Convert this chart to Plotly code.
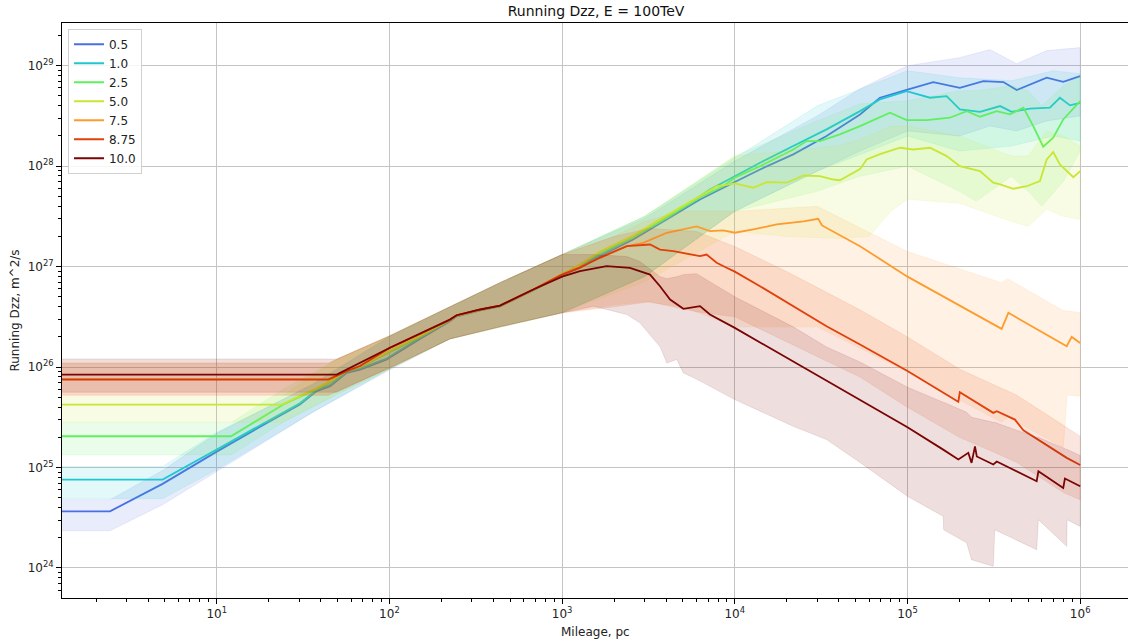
import plotly.graph_objects as go
import numpy as np

# ---------------- data ----------------
# y values are given as log10(Dzz [m^2/s]); x values in pc
series_names = ["0.5", "1.0", "2.5", "5.0", "7.5", "8.75", "10.0"]
series_colors = [(74, 111, 227), (31, 200, 209), (95, 240, 95), (200, 230, 50),
                 (254, 155, 45), (224, 64, 10), (122, 4, 3)]

x_05 = [1, 2.41, 4.86, 10, 19.5, 30.3, 37.9, 45.3, 56.6, 67.6, 96.4, 150, 224, 245, 335, 437, 681,
        1000, 1270, 1660, 2580, 4040, 6290, 9800, 14000, 21800, 34000, 53100, 69300, 98900, 141000,
        201000, 275000, 359000, 429000, 640000, 798000, 1000000]
lg_05 = [24.564, 24.564, 24.837, 25.158, 25.444, 25.627, 25.76, 25.81, 25.942, 25.975, 26.075, 26.28,
         26.456, 26.505, 26.565, 26.605, 26.765, 26.915, 26.99, 27.104, 27.27, 27.469, 27.668, 27.835,
         27.967, 28.117, 28.30, 28.515, 28.681, 28.76, 28.837, 28.78, 28.847, 28.837, 28.757, 28.88,
         28.84, 28.896]
bx_05 = [1, 2.41, 4.86, 10, 36, 100, 224, 437, 1000, 3000, 10000, 30000, 53100, 100000, 200000, 300000,
         429000, 640000, 1000000]
blo_05 = [24.37, 24.37, 24.63, 24.96, 25.55, 25.97, 26.28, 26.40, 26.54, 26.9, 27.55, 27.95, 28.15, 28.35,
          28.3, 28.4, 28.35, 28.45, 28.5]
bhi_05 = [24.68, 24.68, 24.97, 25.34, 25.83, 26.30, 26.60, 26.84, 27.12, 27.48, 28.05, 28.5, 28.77, 29.0,
          29.08, 29.16, 29.02, 29.15, 29.18]

x_10 = [1, 4.86, 10, 19.5, 30.3, 37.9, 45.3, 56.6, 67.6, 96.4, 150, 224, 245, 335, 437, 681, 1000, 1270,
        1660, 2580, 4220, 7180, 10000, 14000, 21800, 34000, 53100, 69300, 98900, 135000, 168600, 201000,
        263000, 344000, 401000, 512000, 668000, 763000, 873000, 1000000]
lg_10 = [24.879, 24.879, 25.18, 25.46, 25.64, 25.77, 25.82, 25.95, 25.985, 26.085, 26.29, 26.46, 26.508,
         26.567, 26.607, 26.767, 26.918, 27.01, 27.12, 27.29, 27.502, 27.768, 27.90, 28.034, 28.2, 28.366,
         28.548, 28.664, 28.747, 28.681, 28.697, 28.565, 28.54, 28.598, 28.54, 28.572, 28.582, 28.681,
         28.605, 28.631]
bx_10 = [1, 4.86, 10, 36, 100, 224, 437, 1000, 3000, 10000, 30000, 100000, 200000, 400000, 700000, 1000000]
blo_10 = [24.69, 24.69, 24.98, 25.55, 25.98, 26.28, 26.40, 26.54, 26.9, 27.55, 27.95, 28.3, 28.15, 28.2,
          28.3, 28.25]
bhi_10 = [25.01, 25.01, 25.35, 25.83, 26.31, 26.60, 26.84, 27.12, 27.5, 28.08, 28.6, 28.95, 28.88, 28.85,
          28.95, 28.92]

x_25 = [1, 12.1, 24.3, 37.9, 45.3, 56.6, 67.6, 100, 150, 224, 245, 335, 437, 681, 1000, 1270, 1660, 2580,
        4040, 6290, 8570, 10000, 14000, 21800, 26100, 31100, 40600, 53100, 79200, 98900, 129000, 176000,
        220000, 263000, 329000, 392000, 469000, 535000, 611000, 698000, 798000, 1000000]
lg_25 = [25.311, 25.311, 25.627, 25.78, 25.85, 25.96, 26.0, 26.15, 26.30, 26.465, 26.51, 26.57, 26.61,
         26.77, 26.92, 27.02, 27.14, 27.29, 27.49, 27.69, 27.80, 27.885, 28.0, 28.166, 28.25, 28.25, 28.316,
         28.398, 28.532, 28.458, 28.458, 28.482, 28.548, 28.492, 28.548, 28.515, 28.582, 28.398, 28.193,
         28.283, 28.465, 28.647]
bx_25 = [1, 12.1, 24.3, 50, 100, 224, 437, 1000, 3000, 10000, 30000, 53100, 100000, 200000, 250000,
         400000, 500000, 600000, 800000, 1000000]
blo_25 = [25.125, 25.125, 25.45, 25.73, 25.98, 26.28, 26.40, 26.54, 26.9, 27.55, 27.75, 27.9, 28.0, 27.75,
          27.65, 27.9, 27.75, 27.6, 27.85, 28.15]
bhi_25 = [25.445, 25.445, 25.78, 26.08, 26.31, 26.60, 26.84, 27.12, 27.5, 28.1, 28.45, 28.62, 28.65,
          28.75, 28.75, 28.8, 28.75, 28.6, 28.8, 28.9]

x_50 = [1, 23.8, 37.9, 45.3, 56.6, 67.6, 100, 150, 224, 245, 335, 437, 681, 1000, 1270, 1660, 2580, 4040,
        6290, 7880, 8570, 10000, 12800, 15300, 20000, 25000, 31100, 37200, 40600, 53100, 58000, 69300,
        90600, 108000, 135000, 168600, 201000, 263000, 314000, 344000, 410000, 490000, 585000, 640000,
        698000, 763000, 913000, 1000000]
lg_50 = [25.627, 25.627, 25.79, 25.86, 25.965, 26.005, 26.16, 26.31, 26.47, 26.515, 26.572, 26.612,
         26.772, 26.922, 27.02, 27.15, 27.31, 27.51, 27.70, 27.80, 27.808, 27.828, 27.785, 27.84, 27.835,
         27.907, 27.90, 27.867, 27.86, 27.97, 28.067, 28.12, 28.183, 28.166, 28.183, 28.10, 28.0, 27.95,
         27.835, 27.818, 27.775, 27.80, 27.851, 28.067, 28.14, 28.017, 27.89, 27.95]
bx_50 = [1, 23.8, 50, 100, 224, 437, 1000, 3000, 10000, 20000, 40000, 60000, 80000, 100000, 200000,
         400000, 500000, 640000, 800000, 1000000]
blo_50 = [25.45, 25.45, 25.73, 25.98, 26.28, 26.40, 26.54, 26.85, 27.35, 27.3, 27.28, 27.3, 27.55, 27.67,
          27.63, 27.45, 27.40, 27.57, 27.5, 27.47]
bhi_50 = [25.71, 25.71, 26.08, 26.31, 26.60, 26.84, 27.12, 27.5, 28.1, 28.15, 28.2, 28.3, 28.4, 28.4,
          28.3, 28.1, 28.1, 28.35, 28.3, 28.2]

x_75 = [1, 44.3, 56.6, 67.6, 100, 150, 224, 245, 335, 437, 681, 1000, 1270, 1660, 2370, 2950, 4040, 6010,
        7180, 8570, 10000, 12800, 17500, 25000, 30400, 32000, 53100, 100000, 220000, 351000, 384000,
        836000, 893000, 1000000]
lg_75 = [25.88, 25.88, 25.96, 26.01, 26.19, 26.33, 26.47, 26.515, 26.572, 26.612, 26.772, 26.921, 27.0,
         27.09, 27.203, 27.237, 27.337, 27.40, 27.353, 27.36, 27.337, 27.37, 27.42, 27.45, 27.476, 27.41,
         27.203, 26.90, 26.573, 26.38, 26.54, 26.207, 26.30, 26.24]
bx_75 = [1, 44.3, 100, 224, 437, 1000, 2000, 3000, 5000, 10000, 30000, 100000, 350000, 380000, 800000,
         840000, 1000000]
blo_75 = [25.72, 25.72, 25.99, 26.28, 26.40, 26.54, 26.62, 26.65, 26.6, 26.4, 26.4, 25.95, 25.45, 25.5,
          25.2, 25.72, 25.71]
bhi_75 = [26.04, 26.04, 26.31, 26.60, 26.84, 27.12, 27.3, 27.45, 27.55, 27.55, 27.6, 27.15, 26.84, 26.88,
          26.56, 26.56, 26.54]

x_875 = [1, 44.3, 56.6, 67.6, 100, 150, 224, 245, 335, 437, 681, 1000, 1270, 1660, 2370, 3230, 3690,
         4410, 5750, 6290, 6870, 7850, 8970, 10000, 14000, 21800, 34000, 53100, 100000, 197000, 201000,
         314000, 329000, 419000, 469000, 836000, 1000000]
lg_875 = [25.875, 25.875, 25.96, 26.01, 26.19, 26.33, 26.47, 26.515, 26.572, 26.612, 26.772, 26.921,
          26.99, 27.09, 27.203, 27.22, 27.17, 27.153, 27.12, 27.104, 27.12, 27.038, 26.988, 26.95, 26.805,
          26.606, 26.406, 26.224, 25.96, 25.655, 25.749, 25.544, 25.56, 25.477, 25.37, 25.096, 25.025]
bx_875 = [1, 44.3, 100, 224, 437, 1000, 2000, 3200, 6000, 10000, 20000, 53100, 100000, 200000, 320000,
          430000, 800000, 1000000]
blo_875 = [25.72, 25.72, 25.99, 26.28, 26.40, 26.54, 26.6, 26.65, 26.55, 26.5, 26.25, 25.9, 25.6, 25.3,
           25.15, 25.05, 24.75, 24.68]
bhi_875 = [26.04, 26.04, 26.31, 26.60, 26.84, 27.12, 27.3, 27.38, 27.35, 27.2, 26.95, 26.57, 26.3, 25.98,
           25.82, 25.72, 25.42, 25.31]

x_100 = [1, 49.5, 100, 150, 224, 245, 335, 437, 681, 1000, 1270, 1810, 2470, 3230, 3690, 4220, 5040, 6290,
         7180, 10000, 53100, 100000, 161000, 197000, 225000, 235000, 246000, 252000, 314000, 329000,
         560000, 573000, 798000, 816000, 1000000]
lg_100 = [25.925, 25.925, 26.19, 26.33, 26.473, 26.516, 26.573, 26.612, 26.772, 26.90, 26.954, 27.004,
          26.988, 26.921, 26.805, 26.672, 26.58, 26.606, 26.523, 26.39, 25.676, 25.40, 25.178, 25.08,
          25.146, 25.046, 25.21, 25.11, 25.03, 25.06, 24.863, 24.962, 24.797, 24.89, 24.813]
bx_100 = [1, 49.5, 100, 224, 437, 1000, 1520, 2370, 2820, 3700, 4040, 4610, 5040, 6000, 7180, 10000,
          21800, 34000, 53100, 100000, 161000, 162000, 220000, 235000, 314000, 320000, 560000, 573000,
          836000, 840000, 1000000]
blo_100 = [25.75, 25.75, 25.99, 26.28, 26.40, 26.54, 26.606, 26.523, 26.44, 26.2, 26.04, 26.075, 25.942,
           25.88, 25.81, 25.676, 25.41, 25.278, 25.05, 24.713, 24.514, 24.38, 24.25, 24.083, 24.016,
           24.38, 24.182, 24.48, 24.215, 24.48, 24.414]
bhi_100 = [26.08, 26.08, 26.31, 26.60, 26.84, 27.12, 27.12, 27.1, 27.05, 26.9, 26.88, 26.9, 26.92, 26.93,
           26.85, 26.7, 26.4, 26.2, 26.05, 25.8, 25.65, 25.65, 25.55, 25.5, 25.45, 25.45, 25.3, 25.3,
           25.18, 25.18, 25.12]

x_tick_vals = [10, 100, 1000, 10000, 100000, 1000000]
x_tick_text = ["10<sup>1</sup>", "10<sup>2</sup>", "10<sup>3</sup>", "10<sup>4</sup>",
               "10<sup>5</sup>", "10<sup>6</sup>"]
y_tick_vals = [1e24, 1e25, 1e26, 1e27, 1e28, 1e29]
y_tick_text = ["10<sup>24</sup>", "10<sup>25</sup>", "10<sup>26</sup>", "10<sup>27</sup>",
               "10<sup>28</sup>", "10<sup>29</sup>"]

lines = [(x_05, lg_05), (x_10, lg_10), (x_25, lg_25), (x_50, lg_50),
         (x_75, lg_75), (x_875, lg_875), (x_100, lg_100)]
bands = [(bx_05, blo_05, bhi_05), (bx_10, blo_10, bhi_10), (bx_25, blo_25, bhi_25),
         (bx_50, blo_50, bhi_50), (bx_75, blo_75, bhi_75), (bx_875, blo_875, bhi_875),
         (bx_100, blo_100, bhi_100)]

# ---------------- figure ----------------
fig = go.Figure()
FONT = "DejaVu Sans"

for name, col, (lx, ly), (bx, blo, bhi) in zip(series_names, series_colors, lines, bands):
    r, g, b = col
    bxs = list(bx) + list(bx)[::-1]
    bys = list(np.power(10.0, bhi)) + list(np.power(10.0, blo))[::-1]
    fig.add_trace(go.Scatter(
        x=bxs, y=bys, mode="lines", fill="toself",
        fillcolor=f"rgba({r},{g},{b},0.13)",
        line=dict(color=f"rgba({r},{g},{b},0.10)", width=1),
        hoverinfo="skip", showlegend=False))
    fig.add_trace(go.Scatter(
        x=lx, y=np.power(10.0, ly), mode="lines", name=name,
        line=dict(color=f"rgb({r},{g},{b})", width=1.8)))

minor_x = [m * 10 ** e for e in range(0, 7) for m in range(2, 10)]
minor_y = [m * 10.0 ** e for e in range(23, 30) for m in range(2, 10)]

axis_common = dict(
    type="log", showline=True, linecolor="black", linewidth=1, mirror=True,
    ticks="outside", ticklen=5, tickwidth=1, tickcolor="black",
    showgrid=True, gridcolor="#c4c4c4", gridwidth=1, zeroline=False,
    tickfont=dict(family=FONT, size=12, color="#222"), tickmode="array",
)

fig.update_layout(
    width=1128, height=643,
    margin=dict(l=62, r=0, t=23, b=45),
    plot_bgcolor="white", paper_bgcolor="white",
    font=dict(family=FONT, size=12, color="#222"),
    xaxis=dict(**axis_common, range=[0.104, 6.277], tickvals=x_tick_vals, ticktext=x_tick_text,
               minor=dict(tickmode="array", tickvals=minor_x, ticks="outside", ticklen=3,
                          tickcolor="black", showgrid=False)),
    yaxis=dict(**axis_common, range=[23.701, 29.425], tickvals=y_tick_vals, ticktext=y_tick_text,
               minor=dict(tickmode="array", tickvals=minor_y, ticks="outside", ticklen=3,
                          tickcolor="black", showgrid=False)),
    title=dict(text="Running Dzz, E = 100TeV", x=0.501, xref="paper", xanchor="center",
               y=1 - 11.5 / 643, yref="container", yanchor="middle",
               font=dict(family=FONT, size=14, color="#111")),
    legend=dict(x=0.0056, y=0.99, xanchor="left", yanchor="top",
                bgcolor="rgba(255,255,255,0.85)", bordercolor="#d0d0d0", borderwidth=1,
                font=dict(family=FONT, size=12, color="#222"), tracegroupgap=0),
    annotations=[
        dict(text="Mileage, pc", xref="paper", yref="paper", x=0.5, y=-0.059,
             xanchor="center", yanchor="middle", showarrow=False,
             font=dict(family=FONT, size=12, color="#222")),
        dict(text="Running Dzz, m^2/s", xref="paper", yref="paper", x=-0.045, y=0.5,
             xanchor="center", yanchor="middle", showarrow=False, textangle=-90,
             font=dict(family=FONT, size=12, color="#222")),
    ],
)

fig.write_html("out.html")
